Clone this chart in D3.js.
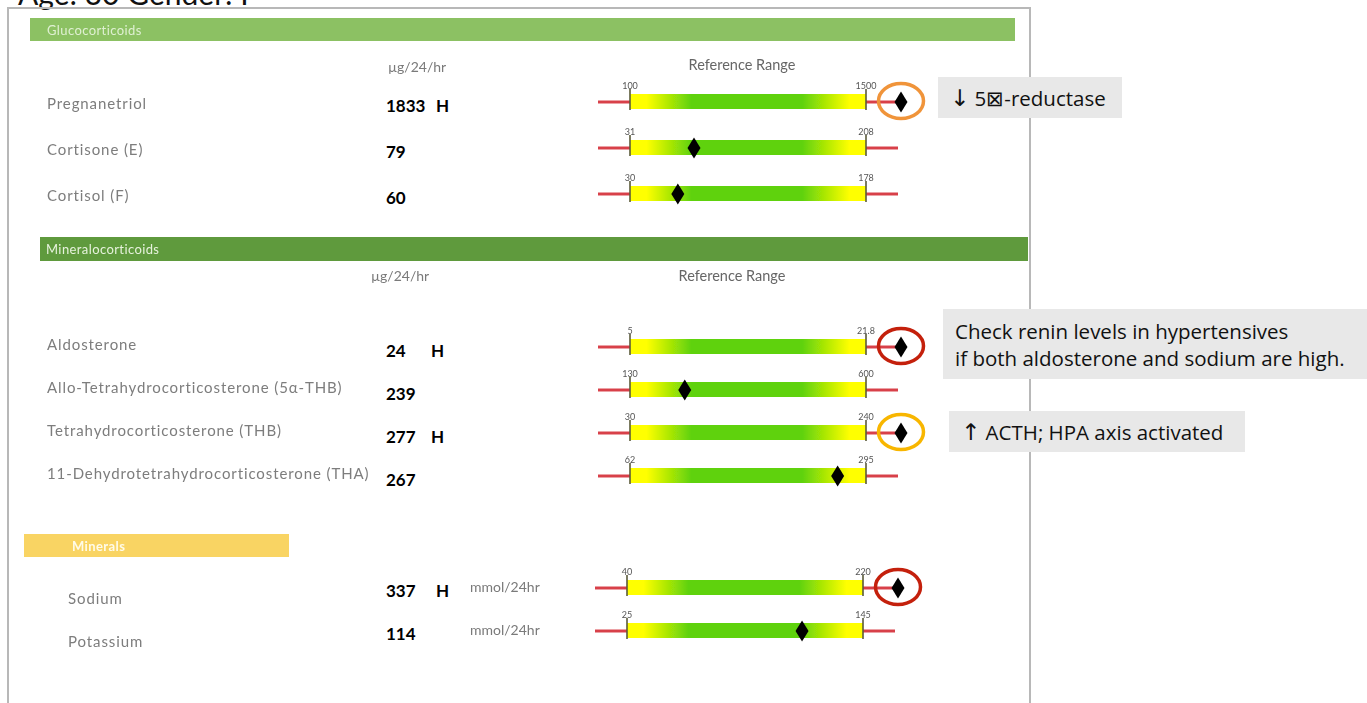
<!DOCTYPE html>
<html><head><meta charset="utf-8">
<script src="https://cdn.jsdelivr.net/npm/d3@7"></script>
<style>html,body{margin:0;padding:0;background:#fff;overflow:hidden}</style>
</head><body>
<svg id="chart" width="1367" height="703"></svg>
<script>
// ---------- data ----------
const titleText = "Age: 30 Gender: F";
const sections = ["Glucocorticoids", "Mineralocorticoids", "Minerals"];
const sectionUnits = ["µg/24/hr", "µg/24/hr", "mmol/24hr"];
const refHeader = "Reference Range";
const analytes = ["Pregnanetriol", "Cortisone (E)", "Cortisol (F)", "Aldosterone",
  "Allo-Tetrahydrocorticosterone (5α-THB)", "Tetrahydrocorticosterone (THB)",
  "11-Dehydrotetrahydrocorticosterone (THA)", "Sodium", "Potassium"];
const analyteSection = [0, 0, 0, 1, 1, 1, 1, 2, 2];
const results = [1833, 79, 60, 24, 239, 277, 267, 337, 114];
const flags = ["H", "", "", "H", "", "H", "", "H", ""];
const refLow = [100, 31, 30, 5, 130, 30, 62, 40, 25];
const refHigh = [1500, 208, 178, 21.8, 600, 240, 295, 220, 145];
const refLowText = ["100", "31", "30", "5", "130", "30", "62", "40", "25"];
const refHighText = ["1500", "208", "178", "21.8", "600", "240", "295", "220", "145"];
const circledRows = [0, 3, 5, 7];
const circleColors = ["#f0943a", "#c4200c", "#f8b600", "#c4200c"];
// [arrow, text] per line
const noteTexts = [[["↓", " 5⊠-reductase"]],
  [["", "Check renin levels in hypertensives"], ["", "if both aldosterone and sodium are high."]],
  [["↑", " ACTH; HPA axis activated"]]];

// ---------- layout (not data) ----------
const W = 1367, H = 703;
const sectionTop = [101, 346, 587];
const sectionStep = [46, 43, 43];
const sectionBarX = [[630, 866], [630, 866], [627, 863]];
const labelX = [47, 47, 68];
const labelDy = [2, -2, 11];
const valueDy = [4, 4, 3];
const flagX = [436, 431, 436];
const headerBars = [
  {x: 30, y: 18, w: 985, h: 23, fill: "#8cc163", tf: "#dff0d2", tx: 47},
  {x: 40, y: 237, w: 988, h: 24, fill: "#5f9a3d", tf: "#e6f2dc", tx: 46},
  {x: 24, y: 534, w: 265, h: 23, fill: "#f9d463", tf: "#fffbe8", tx: 72}
];
const noteBoxes = [
  {x: 938, y: 77, w: 184, h: 41},
  {x: 943, y: 309, w: 424, h: 70},
  {x: 949, y: 411, w: 296, h: 41}
];

const svg = d3.select("#chart");
svg.append("rect").attr("width", W).attr("height", H).attr("fill", "#fff");
const defs = svg.append("defs");
const grad = defs.append("linearGradient").attr("id", "rangeGrad")
  .attr("x1", "0%").attr("x2", "100%").attr("y1", "0%").attr("y2", "0%");
[[0, "#ffff00"], [0.07, "#ffff00"], [0.26, "#5fd20a"], [0.73, "#5fd20a"], [0.93, "#ffff00"], [1, "#ffff00"]]
  .forEach(([o, c]) => grad.append("stop").attr("offset", o).attr("stop-color", c));
defs.append("filter").attr("id", "soft").attr("x", "-10%").attr("y", "-50%").attr("width", "120%").attr("height", "200%")
  .append("feGaussianBlur").attr("stdDeviation", 0.55);

// title (cropped at top, as in the reference)
svg.append("text").attr("x", 18).attr("y", 5).attr("font-family", "Lato").attr("font-size", 30)
  .attr("fill", "#111").text(titleText);

// frame
svg.append("path").attr("d", `M8,${H} V8 H1030 V${H}`).attr("fill", "none")
  .attr("stroke", "#b8b8b8").attr("stroke-width", 2);

// section header bars
headerBars.forEach((b, i) => {
  svg.append("rect").attr("x", b.x).attr("y", b.y).attr("width", b.w).attr("height", b.h)
    .attr("fill", b.fill).attr("filter", "url(#soft)");
  svg.append("text").attr("x", b.tx).attr("y", b.y + b.h / 2).attr("dominant-baseline", "central")
    .attr("font-family", "Lato").attr("font-size", 13).attr("font-weight", i === 2 ? 700 : 400)
    .attr("letter-spacing", 0.4).attr("fill", b.tf).attr("filter", "url(#soft)").text(sections[i]);
});

// column headers
const colHead = [{ux: 388, uy: 66, rx: 742, ry: 64}, {ux: 371, uy: 275, rx: 732, ry: 275}];
colHead.forEach((c, i) => {
  svg.append("text").attr("x", c.ux).attr("y", c.uy).attr("dominant-baseline", "central")
    .attr("font-family", "Lato").attr("font-size", 14).attr("fill", "#7a7a7a").attr("filter", "url(#soft)")
    .text(sectionUnits[i]);
  svg.append("text").attr("x", c.rx).attr("y", c.ry).attr("dominant-baseline", "central").attr("text-anchor", "middle")
    .attr("font-family", "Lato").attr("font-size", 14.5).attr("fill", "#666").attr("filter", "url(#soft)")
    .text(refHeader);
});

// rows
const rows = analytes.map((name, i) => {
  const s = analyteSection[i];
  const k = analyteSection.slice(0, i).filter(v => v === s).length;
  return {i, name, s, y: sectionTop[s] + k * sectionStep[s]};
});

const diamond = "M0,-10.5 L6.5,0 L0,10.5 L-6.5,0 Z";
const outlierGap = 35;

rows.forEach(r => {
  const [x0, x1] = sectionBarX[r.s];
  const xs = d3.scaleLinear().domain([refLow[r.i], refHigh[r.i]]).range([x0, x1]);
  const v = results[r.i];
  const vx = v > refHigh[r.i] ? x1 + outlierGap : (v < refLow[r.i] ? x0 - outlierGap : xs(v));
  r.vx = vx;
  const g = svg.append("g");
  // label
  g.append("text").attr("x", labelX[r.s]).attr("y", r.y + labelDy[r.s]).attr("dominant-baseline", "central")
    .attr("font-family", "Lato").attr("font-size", 15).attr("letter-spacing", 0.9)
    .attr("fill", "#7d7d7d").attr("filter", "url(#soft)").text(r.name);
  // value + flag
  g.append("text").attr("x", 386).attr("y", r.y + valueDy[r.s]).attr("dominant-baseline", "central")
    .attr("font-family", "Lato").attr("font-weight", 700).attr("font-size", 17).attr("fill", "#000")
    .text(v);
  if (flags[r.i]) g.append("text").attr("x", flagX[r.s]).attr("y", r.y + valueDy[r.s]).attr("dominant-baseline", "central")
    .attr("font-family", "Lato").attr("font-weight", 700).attr("font-size", 17).attr("fill", "#000")
    .text(flags[r.i]);
  if (r.s === 2) g.append("text").attr("x", 470).attr("y", r.y - 1).attr("dominant-baseline", "central")
    .attr("font-family", "Lato").attr("font-size", 14).attr("fill", "#7a7a7a").attr("filter", "url(#soft)")
    .text(sectionUnits[r.s]);
  // range graphic
  const rg = g.append("g").attr("filter", "url(#soft)");
  rg.append("line").attr("x1", x0 - 32).attr("x2", x0).attr("y1", r.y + 1).attr("y2", r.y + 1)
    .attr("stroke", "#d8404a").attr("stroke-width", 3);
  rg.append("line").attr("x1", x1).attr("x2", x1 + 32).attr("y1", r.y + 1).attr("y2", r.y + 1)
    .attr("stroke", "#d8404a").attr("stroke-width", 3);
  rg.append("rect").attr("x", x0).attr("y", r.y - 7).attr("width", x1 - x0).attr("height", 15)
    .attr("fill", "url(#rangeGrad)");
  [x0, x1].forEach(tx => rg.append("line").attr("x1", tx).attr("x2", tx).attr("y1", r.y - 12).attr("y2", r.y + 9)
    .attr("stroke", "#5a5a3a").attr("stroke-width", 1.6));
  rg.append("text").attr("x", x0).attr("y", r.y - 12).attr("text-anchor", "middle")
    .attr("font-family", "Lato").attr("font-size", 9).attr("fill", "#555").text(refLowText[r.i]);
  rg.append("text").attr("x", x1).attr("y", r.y - 12).attr("text-anchor", "middle")
    .attr("font-family", "Lato").attr("font-size", 9).attr("fill", "#555").text(refHighText[r.i]);
  // marker
  g.append("path").attr("d", diamond).attr("transform", `translate(${vx},${r.y + 1})`).attr("fill", "#000");
});

// highlight circles
circledRows.forEach((ri, j) => {
  const r = rows[ri];
  svg.append("ellipse").attr("cx", r.vx).attr("cy", r.y).attr("rx", 22.5).attr("ry", 17.5)
    .attr("fill", "none").attr("stroke", circleColors[j]).attr("stroke-width", 3.5);
});

// note boxes
noteBoxes.forEach((b, i) => {
  svg.append("rect").attr("x", b.x).attr("y", b.y).attr("width", b.w).attr("height", b.h).attr("fill", "#e8e8e8");
  const lines = noteTexts[i];
  const lh = 27;
  lines.forEach(([arrow, t], k) => {
    const tx = svg.append("text").attr("x", b.x + 12).attr("y", b.y + b.h / 2 + (k - (lines.length - 1) / 2) * lh)
      .attr("dominant-baseline", "central").attr("font-family", "Open Sans").attr("font-size", 20.5)
      .attr("fill", "#111");
    if (arrow) tx.append("tspan").attr("font-family", "DejaVu Sans").attr("font-size", 23).text(arrow);
    tx.append("tspan").text(t);
  });
});
</script>
</body></html>
